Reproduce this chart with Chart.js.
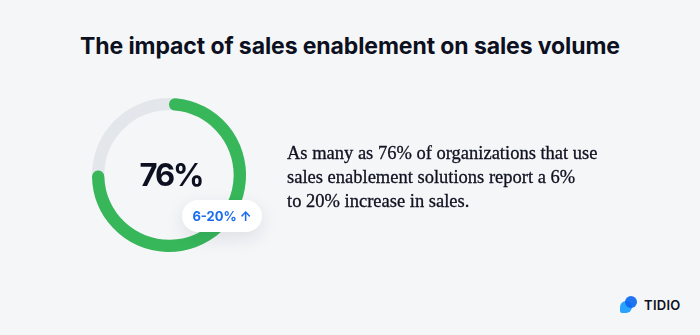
<!DOCTYPE html>
<html>
<head>
<meta charset="utf-8">
<script src="https://cdn.jsdelivr.net/npm/chart.js@4/dist/chart.umd.min.js"></script>
<style>
  html, body { margin: 0; padding: 0; }
  body {
    width: 700px; height: 335px; background: #f5f6f8; position: relative; overflow: hidden;
    font-family: Inter, "Noto Sans", sans-serif; color: #0c1020;
  }
  h1 {
    position: absolute; left: 0; top: 32px; width: 700px; margin: 0;
    text-align: center; font-size: 23px; font-weight: 700; letter-spacing: -0.1px;
  }
  #ring { position: absolute; left: 92px; top: 98px; width: 154px; height: 154px; }
  .badge {
    position: absolute; left: 182px; top: 200px; width: 80px; height: 32px;
    background: #fff; border-radius: 16px; box-shadow: 0 6px 18px rgba(20, 30, 60, 0.10);
    color: #1a6cf0; font-weight: 700; font-size: 13px; line-height: 32px; text-align: center;
  }
  .copy {
    position: absolute; left: 287px; top: 141px; width: 390px;
    font-family: "Liberation Serif", "DejaVu Serif", serif; font-size: 18.5px; line-height: 24px;
    color: #0e1220; -webkit-text-stroke: 0.3px #0e1220;
  }
  .logo { position: absolute; left: 620px; top: 296px; height: 18px; }
  .logo .a { position: absolute; left: 0; top: 5px; width: 12px; height: 12px; border-radius: 6px 6px 6px 2px; background: #2aa3ff; }
  .logo .b { position: absolute; left: 5px; top: 0; width: 12px; height: 12px; border-radius: 6px; background: #0a66f0; opacity: 0.9; }
  .logo span { position: absolute; left: 24px; top: 1px; font-size: 13px; font-weight: 600; letter-spacing: 0.3px; color: #0c1020; }
</style>
</head>
<body>
<h1>The impact of sales enablement on sales volume</h1>
<div id="ring"><canvas id="chart"></canvas></div>
<div class="badge" id="badge"></div>
<div class="copy">As many as 76% of organizations that use<br>sales enablement solutions report a 6%<br>to 20% increase in sales.</div>
<div class="logo"><div class="a"></div><div class="b"></div><span>TIDIO</span></div>
<script>
const segments = ['Use sales enablement', 'Remaining'];
const shares = [76, 24];
const increaseRange = [6, 20];

document.getElementById('badge').textContent = increaseRange[0] + '-' + increaseRange[1] + '% \u2191';

// grey track behind the ring + the big percentage in the middle
const ringExtras = {
    id: 'ringExtras',
    beforeDatasetsDraw(chart) {
        const arc = chart.getDatasetMeta(0).data[0];
        const ctx = chart.ctx;
        const r = (arc.outerRadius + arc.innerRadius) / 2;
        ctx.save();
        ctx.beginPath();
        ctx.arc(arc.x, arc.y, r, 0, Math.PI * 2);
        ctx.lineWidth = arc.outerRadius - arc.innerRadius;
        ctx.strokeStyle = '#e3e7eb';
        ctx.stroke();
        ctx.restore();
    },
    afterDatasetsDraw(chart) {
        const arc = chart.getDatasetMeta(0).data[0];
        const ctx = chart.ctx;
        ctx.save();
        ctx.font = '700 31px Inter, sans-serif';
        ctx.letterSpacing = '-2px';
        ctx.fillStyle = '#0c1020';
        ctx.textAlign = 'center';
        ctx.textBaseline = 'middle';
        ctx.fillText(chart.data.datasets[0].data[0] + '%', arc.x + 2, arc.y + 2);
        ctx.restore();
    }
};

new Chart(document.getElementById('chart'), {
    type: 'doughnut',
    data: {
        labels: segments,
        datasets: [{
            data: shares,
            backgroundColor: ['#37b75a', 'rgba(0,0,0,0)'],
            borderWidth: 0,
            borderRadius: [6, 0]
        }]
    },
    options: {
        responsive: true,
        maintainAspectRatio: false,
        animation: false,
        cutout: '84%',
        layout: { padding: 0 },
        plugins: {
            legend: { display: false },
            tooltip: { enabled: false }
        }
    },
    plugins: [ringExtras]
});
</script>
</body>
</html>
